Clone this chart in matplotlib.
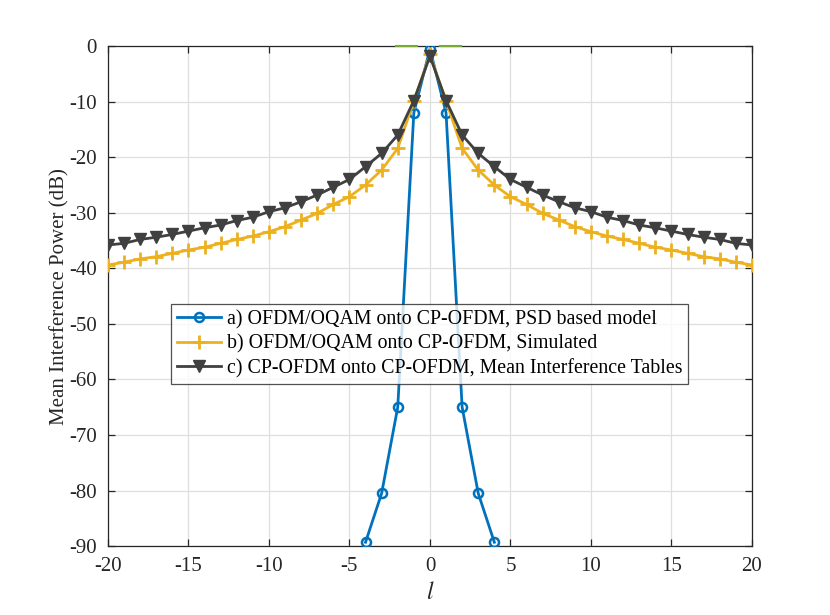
import matplotlib
matplotlib.use("Agg")
import matplotlib.pyplot as plt
import numpy as np

# ---- data ----
l_all = list(range(-20, 21))
l_psd = list(range(-4, 5))
psd_model = [-89.3, -80.5, -65.0, -12.0, -0.5, -12.0, -65.0, -80.5, -89.3]
simulated = [-39.4, -38.9, -38.3, -37.9, -37.3, -36.7, -36.2, -35.5, -34.8, -34.2,
             -33.4, -32.5, -31.3, -30.1, -28.5, -27.1, -25.0, -22.3, -18.4, -9.9,
             -1.5,
             -9.9, -18.4, -22.3, -25.0, -27.1, -28.5, -30.1, -31.3, -32.5, -33.4,
             -34.2, -34.8, -35.5, -36.2, -36.7, -37.3, -37.9, -38.3, -38.9, -39.4]
tables = [-35.8, -35.5, -34.8, -34.4, -33.9, -33.3, -32.7, -32.2, -31.4, -30.8,
          -29.8, -29.1, -28.0, -26.8, -25.4, -24.0, -21.7, -19.3, -16.0, -9.8,
          -1.8,
          -9.8, -16.0, -19.3, -21.7, -24.0, -25.4, -26.8, -28.0, -29.1, -29.8,
          -30.8, -31.4, -32.2, -32.7, -33.3, -33.9, -34.4, -34.8, -35.5, -35.8]
green_x = [[-2.1, -0.8], [0.6, 1.9]]
green_y = [0, 0]
labels = ["a) OFDM/OQAM onto CP-OFDM, PSD based model",
          "b) OFDM/OQAM onto CP-OFDM, Simulated",
          "c) CP-OFDM onto CP-OFDM, Mean Interference Tables"]
xticks = [-20, -15, -10, -5, 0, 5, 10, 15, 20]
yticks = [0, -10, -20, -30, -40, -50, -60, -70, -80, -90]

plt.rcParams['font.family'] = ['Liberation Serif', 'DejaVu Serif']
plt.rcParams['mathtext.fontset'] = 'stix'
plt.rcParams['axes.unicode_minus'] = False

fig = plt.figure(figsize=(8.3, 6.15), dpi=100)
ax = fig.add_axes([0.130, 0.112, 0.776, 0.813])

c_blue = '#0072BD'
c_yel = '#EDB120'
c_gray = '#404040'

ax.plot(l_psd, psd_model, color=c_blue, lw=2.0, marker='o', ms=6.5,
        mfc='none', mew=1.8, label=labels[0], zorder=3)
ax.plot(l_all, simulated, color=c_yel, lw=2.0, marker='+', ms=10,
        mew=2.0, label=labels[1], zorder=3)
ax.plot(l_all, tables, color=c_gray, lw=2.0, marker='v', ms=8,
        mfc=c_gray, mew=1.0, label=labels[2], zorder=4)
for gx in green_x:
    ax.plot(gx, green_y, color='#77AC30', lw=1.5, zorder=5, clip_on=False)

ax.set_xlim(-20, 20)
ax.set_ylim(-90, 0)
ax.set_xticks(xticks)
ax.set_yticks(yticks)
ax.grid(True, color='#dfdfdf', lw=0.9)
ax.set_axisbelow(True)
ax.tick_params(direction='in', top=True, right=True, labelsize=15,
               length=5, width=0.9, colors='#262626', pad=8)
for s in ax.spines.values():
    s.set_color('#262626')
    s.set_linewidth(0.9)

ax.set_xlabel(r'$l$', fontsize=17, color='#262626', labelpad=4)
ax.set_ylabel('Mean Interference Power (dB)', fontsize=15, color='#262626',
              labelpad=0)

leg = ax.legend(loc='center', bbox_to_anchor=(0.5, 0.404), fontsize=14.3,
                frameon=True, fancybox=False, edgecolor='#262626',
                handlelength=2.2, handletextpad=0.3, borderpad=0.3,
                labelspacing=0.25, borderaxespad=0)
leg.get_frame().set_linewidth(0.9)

fig.savefig('out.png', dpi=100)
